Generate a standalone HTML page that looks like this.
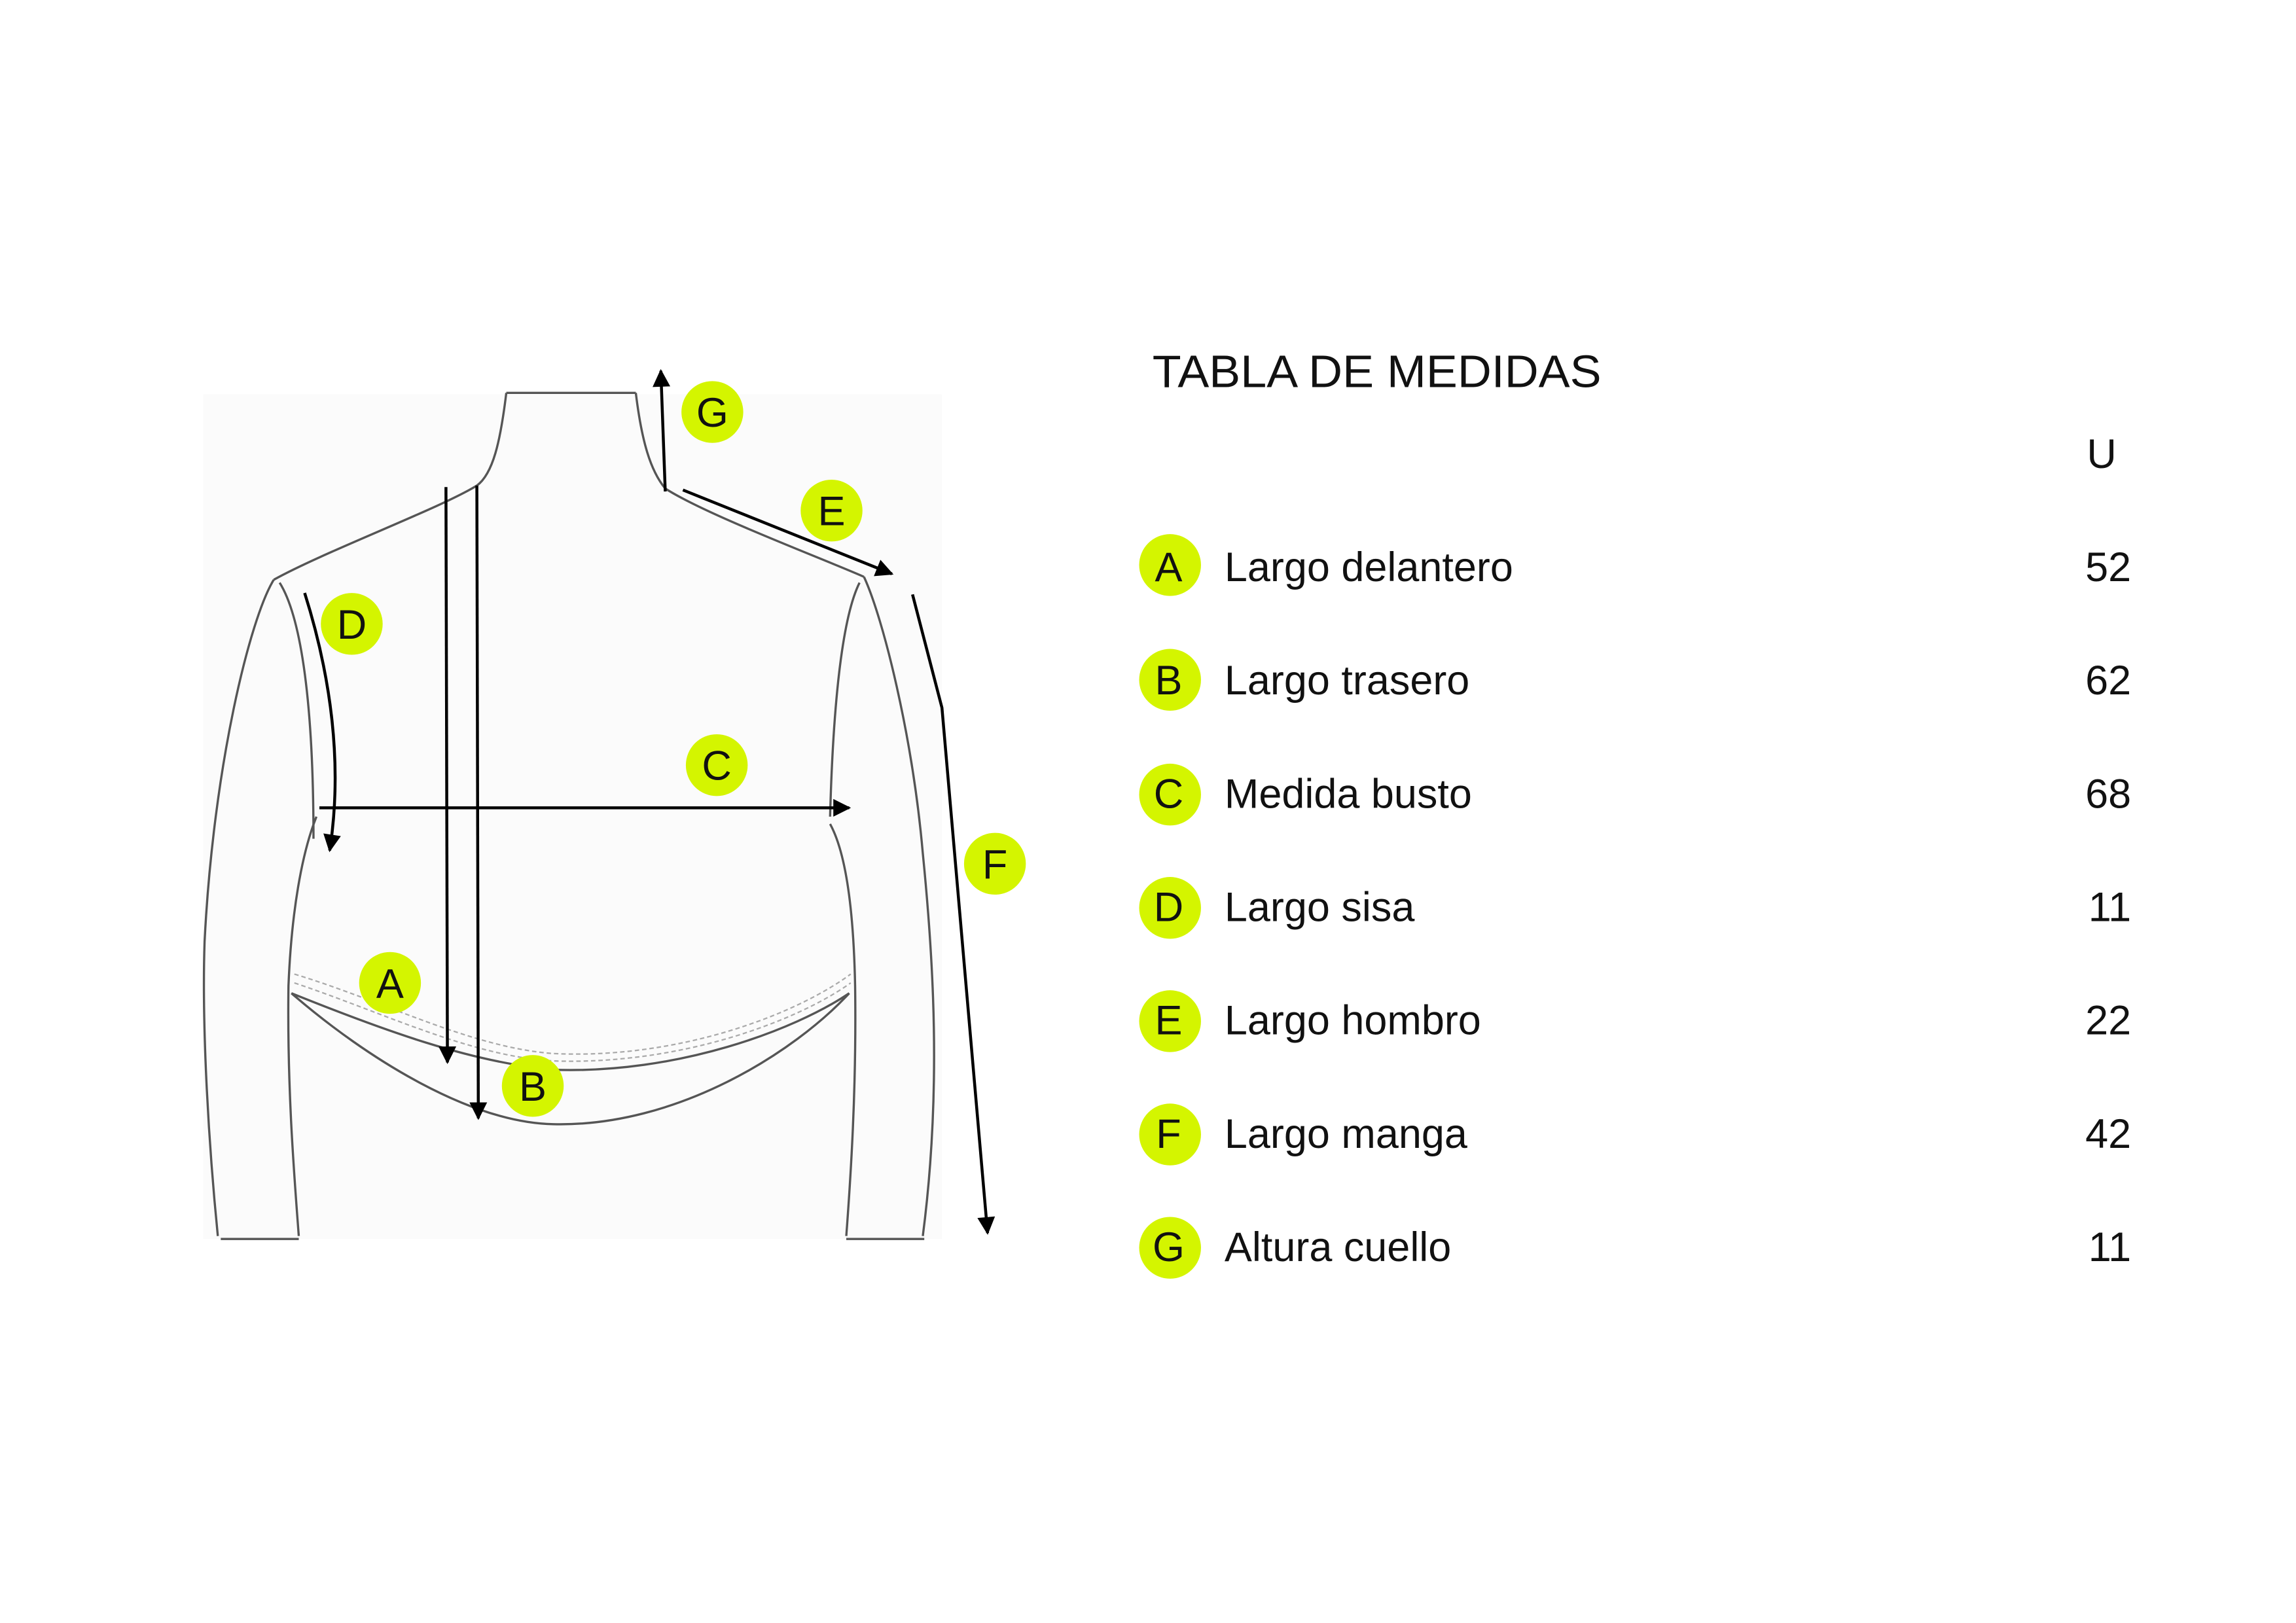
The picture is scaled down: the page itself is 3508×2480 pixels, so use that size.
<!DOCTYPE html>
<html><head><meta charset="utf-8"><style>
html,body{margin:0;padding:0;background:#fff;}
svg{display:block;}
text{font-family:"Liberation Sans",sans-serif;fill:#111;}
</style></head><body>
<svg width="3508" height="2480" viewBox="0 0 1560 1103" preserveAspectRatio="none" xmlns="http://www.w3.org/2000/svg">
<defs>
<marker id="ahl" viewBox="0 0 10 10" refX="9" refY="5" markerWidth="20" markerHeight="12" markerUnits="userSpaceOnUse" orient="auto"><path d="M0,0 L10,5 L0,10 z" fill="#000"/></marker>
</defs>
<rect x="138" y="268" width="502" height="574" fill="#fbfbfb"/>
<g fill="none" stroke="#555" stroke-width="1.5">
<path d="M344,267 L432,267"/>
<path d="M344,267 C340,300 335,322 324,330 C300,345 220,375 186,394"/>
<path d="M432,267 C436,300 442,320 452,332 C480,350 560,380 587,392"/>
<path d="M186,394 C170,420 145,520 139,640 C137,700 142,780 148,840"/>
<path d="M190,396 C205,420 213,480 213,570"/>
<path d="M215,555 C205,580 198,620 196,670 C195,740 200,800 203,840"/>
<path d="M587,392 C600,420 620,500 627,580 C634,650 640,740 627,840"/>
<path d="M584,396 C572,420 566,480 564,555"/>
<path d="M564,560 C575,580 580,620 581,670 C582,740 578,800 575,840"/>
<path d="M198,675 C260,700 320,722 376,727 C460,730 540,700 577,675"/>
<path d="M198,675 C250,720 320,763 376,764 C460,766 540,715 577,675"/>
<path d="M150,842 L203,842 M575,842 L628,842"/>
</g>
<g fill="none" stroke="#aaa" stroke-width="1" stroke-dasharray="3,2">
<path d="M200,662 C260,680 320,712 376,716 C460,720 540,690 578,662"/>
<path d="M200,668 C260,688 320,718 376,721 C460,724 540,695 578,668"/>
</g>
<g fill="none" stroke="#000" stroke-width="2">
<path d="M452,334 L449,252" marker-end="url(#ahl)"/>
<path d="M464,333 L606,390" marker-end="url(#ahl)"/>
<path d="M620,404 L640,481 L671,838" marker-end="url(#ahl)"/>
<path d="M217,549 L577,549" marker-end="url(#ahl)"/>
<path d="M303,331 L304,722" marker-end="url(#ahl)"/>
<path d="M324,330 L325,760" marker-end="url(#ahl)"/>
<path d="M207,403 C225,460 233,520 224,578" marker-end="url(#ahl)"/>
</g>
<g fill="#d4f500">
<circle cx="484" cy="280" r="21"/><circle cx="565" cy="347" r="21"/><circle cx="239" cy="424" r="21"/>
<circle cx="487" cy="520" r="21"/><circle cx="676" cy="587" r="21"/><circle cx="265" cy="668" r="21"/><circle cx="362" cy="738" r="21"/>
</g>
<g font-size="28" text-anchor="middle">
<text x="484" y="290">G</text><text x="565" y="357">E</text><text x="239" y="434">D</text>
<text x="487" y="530">C</text><text x="676" y="597">F</text><text x="265" y="678">A</text><text x="362" y="748">B</text>
</g>
<text x="783" y="263" font-size="31" textLength="305" lengthAdjust="spacingAndGlyphs">TABLA DE MEDIDAS</text>
<text x="1428" y="318" font-size="28" text-anchor="middle">U</text>
<g fill="#d4f500">
<circle cx="795" cy="384" r="21"/><circle cx="795" cy="462" r="21"/><circle cx="795" cy="540" r="21"/>
<circle cx="795" cy="617" r="21"/><circle cx="795" cy="694" r="21"/><circle cx="795" cy="771" r="21"/><circle cx="795" cy="848" r="21"/>
</g>
<g font-size="28">
<text x="794" y="395" text-anchor="middle">A</text><text x="832" y="395">Largo delantero</text><text x="1448" y="395" text-anchor="end">52</text>
<text x="794" y="472" text-anchor="middle">B</text><text x="832" y="472">Largo trasero</text><text x="1448" y="472" text-anchor="end">62</text>
<text x="794" y="549" text-anchor="middle">C</text><text x="832" y="549">Medida busto</text><text x="1448" y="549" text-anchor="end">68</text>
<text x="794" y="626" text-anchor="middle">D</text><text x="832" y="626">Largo sisa</text><text x="1448" y="626" text-anchor="end">11</text>
<text x="794" y="703" text-anchor="middle">E</text><text x="832" y="703">Largo hombro</text><text x="1448" y="703" text-anchor="end">22</text>
<text x="794" y="780" text-anchor="middle">F</text><text x="832" y="780">Largo manga</text><text x="1448" y="780" text-anchor="end">42</text>
<text x="794" y="857" text-anchor="middle">G</text><text x="832" y="857">Altura cuello</text><text x="1448" y="857" text-anchor="end">11</text>
</g>
</svg>
</body></html>
